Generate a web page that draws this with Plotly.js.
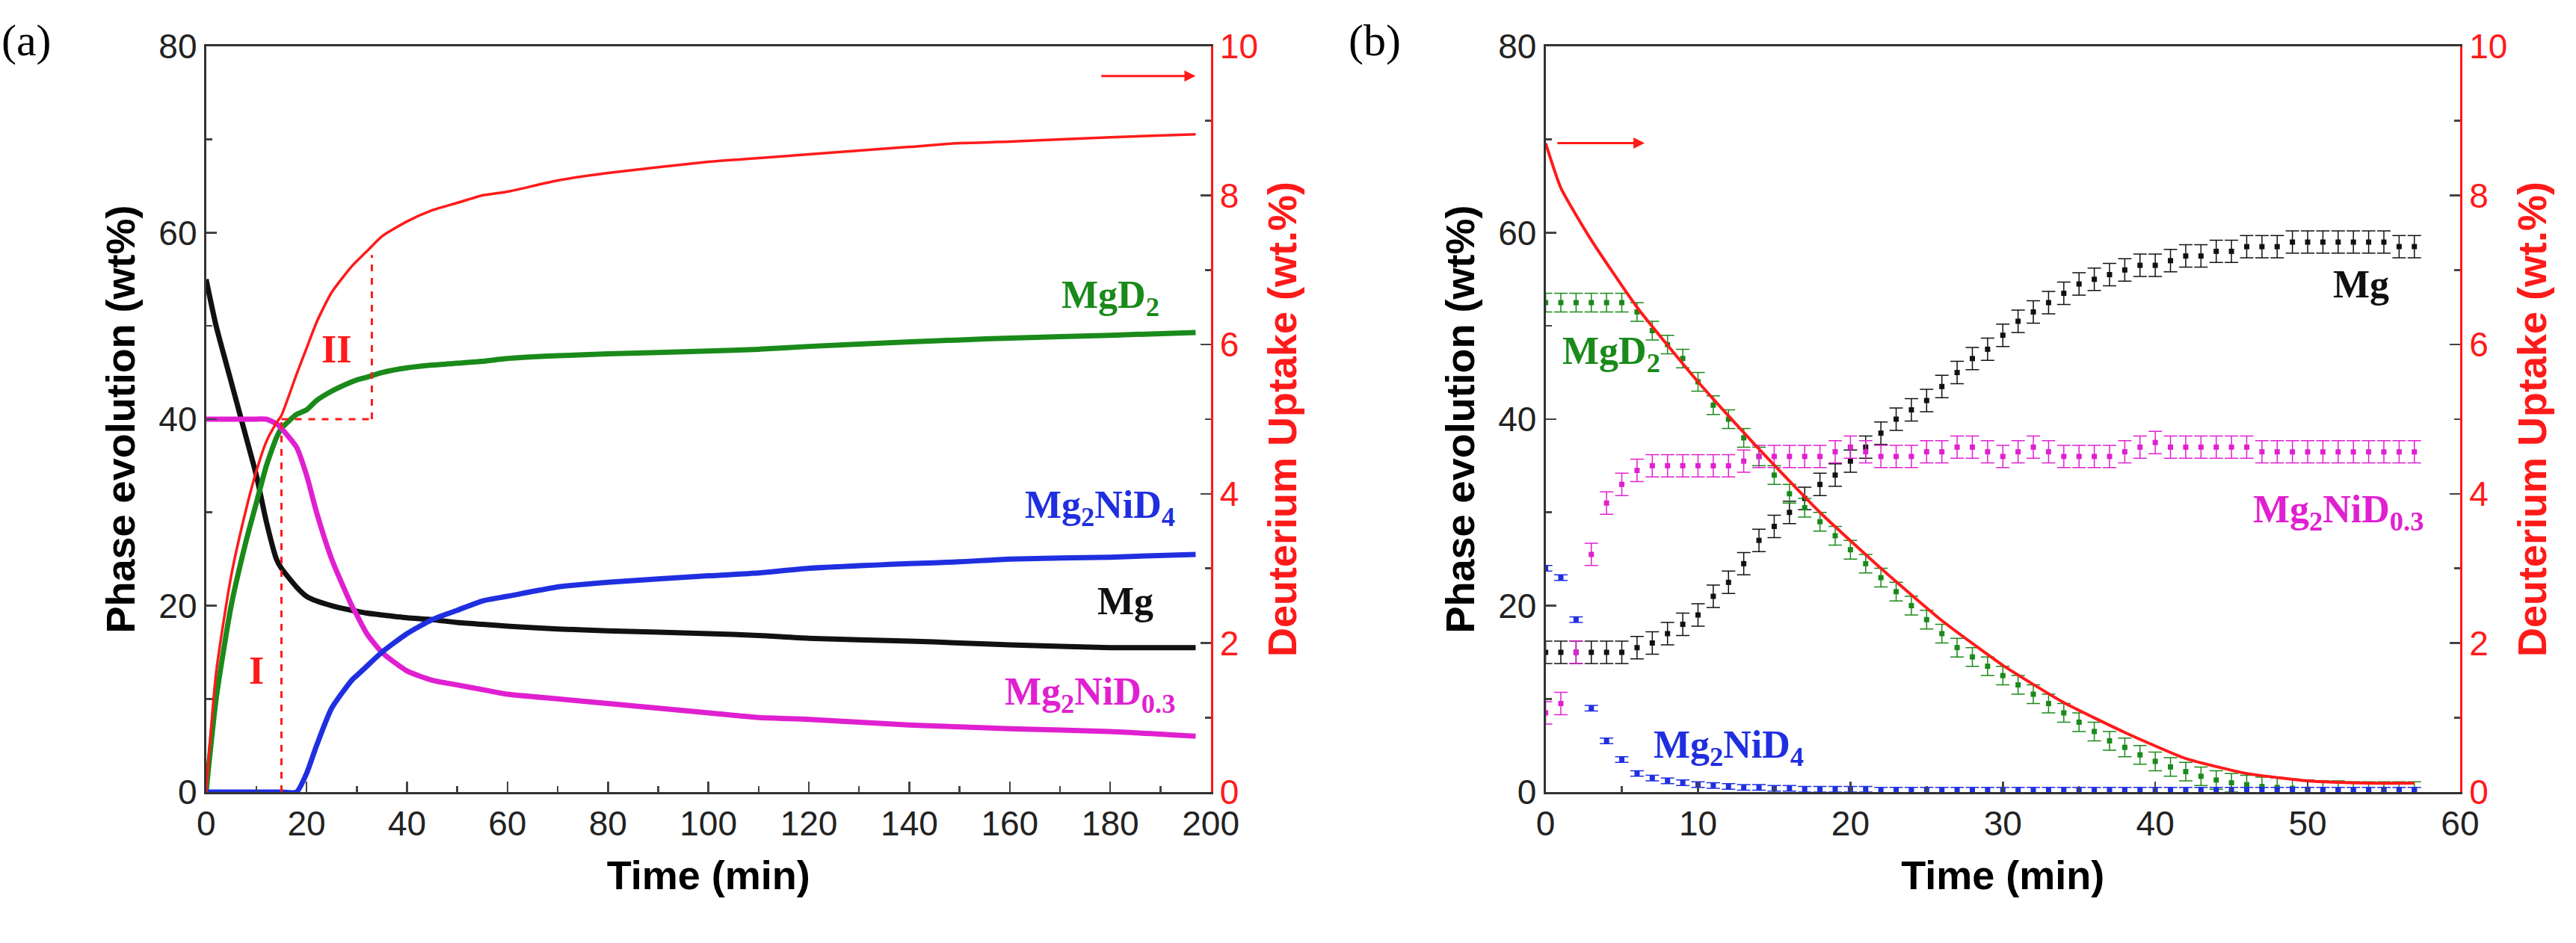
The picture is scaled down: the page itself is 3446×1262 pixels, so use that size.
<!DOCTYPE html>
<html><head><meta charset="utf-8">
<script src="https://cdn.plot.ly/plotly-3.0.1.min.js"></script>
<style>body{margin:0;background:#fff}#g{width:3446px;height:1262px}</style>
</head><body><div id="g"></div>
<script>
// panel (a): time in min, phases in wt%, uptake in wt.%
var tA = [0,2,5,8,10,12,14,15,18,20,22,25,29,30,32,35,40,45,50,55,60,70,80,100,110,120,140,150,160,180,197];
var upA = [0,1.6,2.9,3.8,4.3,4.7,4.95,5.05,5.6,5.95,6.3,6.7,7.05,7.12,7.25,7.45,7.65,7.8,7.9,8.0,8.05,8.2,8.3,8.45,8.5,8.55,8.65,8.7,8.72,8.78,8.82];
var mgd2A = [0,10,20,27,31,35,38,39,40.5,41,42,43,44,44.2,44.5,45,45.5,45.8,46,46.2,46.5,46.8,47,47.3,47.5,47.8,48.3,48.5,48.7,49,49.3];
var mgA = [55,50,44,38,34,29,25,24,22,21,20.5,20,19.5,19.4,19.2,19,18.7,18.5,18.2,18,17.8,17.5,17.3,17,16.8,16.5,16.2,16,15.8,15.5,15.5];
var nid03A = [40,40,40,40,40,40,39.5,39,37,34,30,25,20,19,17,15,13,12,11.5,11,10.5,10,9.5,8.5,8,7.8,7.2,7,6.8,6.5,6];
var nid4A = [0,0,0,0,0,0,0,0,0,2,5,9,12,12.5,13.5,15,17,18.5,19.5,20.5,21,22,22.5,23.2,23.5,24,24.5,24.7,25,25.2,25.5];

// panel (b)
var tB = [0,1,2,3,4,5,6,7,8,9,10,11,12,13,14,15,16,17,18,19,20,21,22,23,24,25,26,27,28,29,30,31,32,33,34,35,36,37,38,39,40,41,42,43,44,45,46,47,48,49,50,51,52,53,54,55,56,57];
var mgB = [15,15,15,15,15,15,15.5,16,17,18,19,21,22.5,24.5,27,28.5,30,31.5,33,34,35.5,37,38.5,40,41,42,43.5,45,46.5,47.5,49,50.5,51.5,52.5,53.5,54.5,55,55.5,56,56.5,56.5,57,57.5,57.5,58,58,58.5,58.5,58.5,59,59,59,59,59,59,59,58.5,58.5];
var mgd2B = [52.5,52.5,52.5,52.5,52.5,52.5,51.5,49.5,48,46.5,44,41.5,40,38,36,34,32,30.5,29,27.5,26,24.5,23,21.5,20,18.5,17,15.5,14.5,13.5,12.5,11.5,10.5,9.5,8.5,7.5,6.5,5.5,4.8,4,3.3,2.7,2.2,1.7,1.3,1,0.8,0.6,0.5,0.4,0.3,0.2,0.2,0.1,0.1,0.1,0.1,0.1];
var nid03B = [8.5,9.5,15,25.5,31,33,34.5,35,35,35,35,35,35,35.5,36,36,36,36,36,36.5,37,36.5,36,36,36,36.5,36.5,37,37,36.5,36,36.5,37,36.5,36,36,36,36,36.5,37,37.5,37,37,37,37,37,37,36.5,36.5,36.5,36.5,36.5,36.5,36.5,36.5,36.5,36.5,36.5];
var nid4B = [24,23,18.5,9,5.5,3.5,2,1.5,1.2,1,0.8,0.7,0.6,0.5,0.5,0.4,0.4,0.3,0.3,0.3,0.3,0.3,0.2,0.2,0.2,0.2,0.2,0.2,0.2,0.2,0.2,0.2,0.2,0.2,0.2,0.2,0.2,0.2,0.2,0.2,0.2,0.2,0.2,0.2,0.2,0.2,0.2,0.2,0.2,0.2,0.2,0.2,0.2,0.2,0.2,0.2,0.2,0.2];
var tUpB = [0,1,3,6,10,14,18,22,26,30,34,38,42,46,50,54,57];
var upB = [8.7,8.1,7.4,6.5,5.5,4.6,3.75,3.0,2.3,1.7,1.2,0.8,0.45,0.25,0.15,0.12,0.12];

var C = {mg:'#111', mgd2:'#1a8a1a', nid4:'#1f2fe0', nid03:'#e020d0', red:'#ff1a1a'};

function lineA(y, col) {
  return {x:tA, y:y, mode:'lines', line:{color:col, width:7, shape:'spline', smoothing:0.6},
          xaxis:'x', yaxis:'y', showlegend:false};
}
function ptsB(y, col, e) {
  return {x:tB, y:y, mode:'markers', marker:{size:7, color:col, symbol:'square'},
          error_y:{type:'constant', value:e, color:col, thickness:1.5, width:9},
          xaxis:'x2', yaxis:'y3', showlegend:false};
}
var data = [
  lineA(mgA, C.mg), lineA(mgd2A, C.mgd2), lineA(nid03A, C.nid03), lineA(nid4A, C.nid4),
  {x:tA, y:upA, mode:'lines', line:{color:C.red, width:3.5, shape:'spline', smoothing:0.6}, xaxis:'x', yaxis:'y2', showlegend:false},
  ptsB(mgB, C.mg, 1.2), ptsB(mgd2B, C.mgd2, 1), ptsB(nid03B, C.nid03, 1.2), ptsB(nid4B, C.nid4, 0.3),
  {x:tUpB, y:upB, mode:'lines', line:{color:C.red, width:4, shape:'spline', smoothing:0.5}, xaxis:'x2', yaxis:'y4', showlegend:false}
];

var tickF = {family:'Liberation Sans, Arial', size:46, color:'#222'};
var titleF = {family:'Liberation Sans, Arial', size:54, color:'#000'};
function xax(dom, max, dt, anchor) {
  return {domain:dom, range:[0, max], dtick:dt, anchor:anchor, ticks:'inside', ticklen:14, tickwidth:2.5,
    minor:{ticks:'inside', ticklen:8, dtick:dt/2}, showline:true, linewidth:3, linecolor:'#333', mirror:true,
    showgrid:false, zeroline:false, tickfont:tickF,
    title:{text:'<b>Time (min)</b>', font:titleF, standoff:25}};
}
function yl(anchor) {
  return {domain:[0.16,0.951], range:[0,80], dtick:20, anchor:anchor, ticks:'inside', ticklen:14, tickwidth:2.5,
    minor:{ticks:'inside', ticklen:8, dtick:10}, showline:true, linewidth:3, linecolor:'#333',
    showgrid:false, zeroline:false, tickfont:tickF,
    title:{text:'<b>Phase evolution (wt%)</b>', font:titleF, standoff:15}};
}
function yr(anchor, over) {
  return {range:[0,10], dtick:2, anchor:anchor, overlaying:over, side:'right', ticks:'inside', ticklen:14, tickwidth:2.5,
    minor:{ticks:'inside', ticklen:8, dtick:1}, showline:true, linewidth:3, linecolor:C.red,
    showgrid:false, zeroline:false, tickfont:{family:'Liberation Sans, Arial', size:46, color:C.red},
    title:{text:'<b>Deuterium Uptake (wt.%)</b>', font:{family:'Liberation Sans, Arial', size:54, color:C.red}, standoff:15}};
}
var serif = 'Liberation Serif, Times New Roman';
function lab(text, x, y, col, xr, yr_) {
  return {text:'<b>'+text+'</b>', x:x, y:y, xref:xr, yref:yr_, showarrow:false,
    font:{family:serif, size:52, color:col}};
}
var layout = {
  width:3446, height:1262, paper_bgcolor:'#fff', plot_bgcolor:'#fff',
  margin:{l:0, r:0, t:0, b:0},
  xaxis:xax([0.08,0.47], 200, 20, 'y'), yaxis:yl('x'), yaxis2:yr('x', 'y'),
  xaxis2:xax([0.6,0.955], 60, 10, 'y3'), yaxis3:yl('x2'), yaxis4:yr('x2', 'y3'),
  annotations:[
    {text:'(a)', x:0.0, y:0.985, xref:'paper', yref:'paper', xanchor:'left', yanchor:'top', showarrow:false, font:{family:serif, size:60, color:'#000'}},
    {text:'(b)', x:0.523, y:0.985, xref:'paper', yref:'paper', xanchor:'left', yanchor:'top', showarrow:false, font:{family:serif, size:60, color:'#000'}},
    lab('MgD<sub>2</sub>', 180, 53, C.mgd2, 'x', 'y'),
    lab('Mg<sub>2</sub>NiD<sub>4</sub>', 178, 30.5, C.nid4, 'x', 'y'),
    lab('Mg', 183, 20.5, C.mg, 'x', 'y'),
    lab('Mg<sub>2</sub>NiD<sub>0.3</sub>', 176, 10.5, C.nid03, 'x', 'y'),
    lab('I', 10, 13, C.red, 'x', 'y'),
    lab('II', 26, 47.5, C.red, 'x', 'y'),
    lab('MgD<sub>2</sub>', 4.3, 47, C.mgd2, 'x2', 'y3'),
    lab('Mg', 53.5, 54.5, C.mg, 'x2', 'y3'),
    lab('Mg<sub>2</sub>NiD<sub>0.3</sub>', 52, 30, C.nid03, 'x2', 'y3'),
    lab('Mg<sub>2</sub>NiD<sub>4</sub>', 12, 4.8, C.nid4, 'x2', 'y3'),
    {x:197, y:9.6, ax:178, ay:9.6, xref:'x', yref:'y2', axref:'x', ayref:'y2', text:'', showarrow:true,
     arrowhead:2, arrowsize:1, arrowwidth:3, arrowcolor:C.red},
    {x:6.5, y:8.7, ax:0.7, ay:8.7, xref:'x2', yref:'y4', axref:'x2', ayref:'y4', text:'', showarrow:true,
     arrowhead:2, arrowsize:1, arrowwidth:3, arrowcolor:C.red}
  ],
  shapes:[
    {type:'line', xref:'x', yref:'y2', x0:15, x1:15, y0:0, y1:5, line:{color:C.red, width:3, dash:'dash'}},
    {type:'line', xref:'x', yref:'y2', x0:15, x1:33, y0:5, y1:5, line:{color:C.red, width:3, dash:'dash'}},
    {type:'line', xref:'x', yref:'y2', x0:33, x1:33, y0:5, y1:7.2, line:{color:C.red, width:3, dash:'dash'}}
  ]
};
Plotly.newPlot('g', data, layout, {staticPlot:true});
</script></body></html>
